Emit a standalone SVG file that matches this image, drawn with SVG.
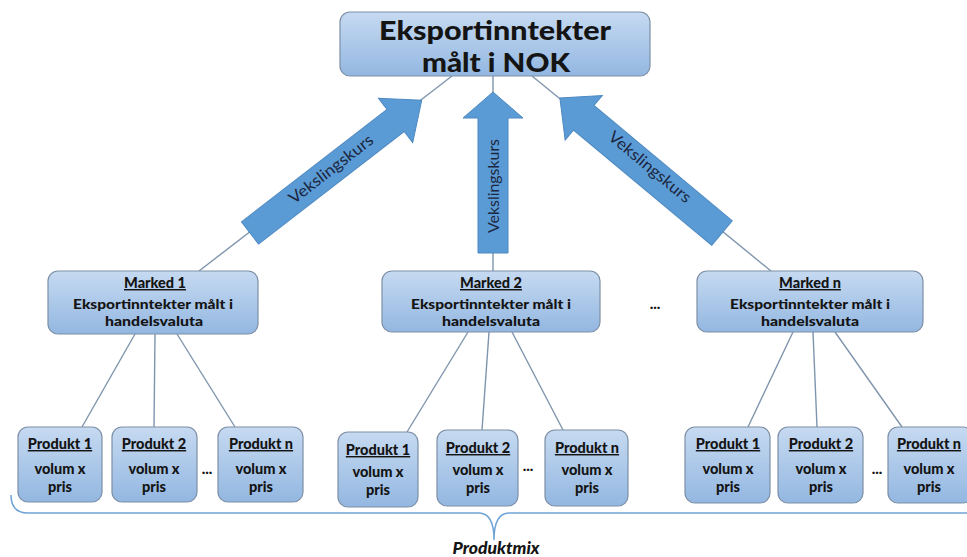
<svg xmlns="http://www.w3.org/2000/svg" width="967" height="557" viewBox="0 0 967 557">
<defs>
<linearGradient id="g" x1="0" y1="0" x2="0" y2="1">
<stop offset="0" stop-color="#c6daf1"/>
<stop offset="1" stop-color="#93b7e1"/>
</linearGradient>
<style>
.box{fill:url(#g);stroke:#7d8fa6;stroke-width:1.2}
.ln{stroke:#7f95ad;stroke-width:1.4;fill:none}
.arr{fill:#5b9bd5;stroke:#4d89c2;stroke-width:1}
.t{font-family:Lato,"Open Sans","Liberation Sans",sans-serif;font-weight:900;fill:#141414;text-anchor:middle}
.h{font-size:14.5px;text-decoration:underline}
.m{font-size:14px}
.p{font-size:14.5px}
.a{font-family:Lato,"Open Sans","Liberation Sans",sans-serif;font-size:16px;fill:#1b2740;text-anchor:middle}
.d{font-family:Lato,"Liberation Sans",sans-serif;font-weight:900;font-size:15px;fill:#141414;text-anchor:middle}
</style>
</defs>
<rect width="967" height="557" fill="#ffffff"/>

<g id="connectors">
<line class="ln" x1="452" y1="76" x2="199" y2="271"/>
<line class="ln" x1="493" y1="76" x2="493" y2="271"/>
<line class="ln" x1="532" y1="76" x2="771" y2="271"/>
<line class="ln" x1="135" y1="334" x2="82" y2="427"/>
<line class="ln" x1="155" y1="334" x2="154" y2="427"/>
<line class="ln" x1="177" y1="334" x2="235" y2="427"/>
<line class="ln" x1="468" y1="332" x2="407" y2="432"/>
<line class="ln" x1="489" y1="332" x2="482" y2="430"/>
<line class="ln" x1="512" y1="332" x2="563" y2="430"/>
<line class="ln" x1="793" y1="332" x2="748" y2="427"/>
<line class="ln" x1="813" y1="332" x2="817" y2="427"/>
<line class="ln" x1="835" y1="332" x2="902" y2="427"/>
</g>

<g id="arrow-left">
<polygon class="arr" transform="translate(250,233) rotate(-37.7)" points="0,-14 184,-14 184,-28 217,0 184,28 184,14 0,14"/>
<text class="a" transform="translate(331,169) rotate(-37.7)" y="5.5" textLength="102" lengthAdjust="spacingAndGlyphs">Vekslingskurs</text>
</g>
<g id="arrow-middle">
<polygon class="arr" transform="translate(493,253) rotate(-90)" points="0,-15 135,-15 135,-30 161,0 135,30 135,15 0,15"/>
<text class="a" transform="translate(493,186) rotate(-90)" y="5.5" textLength="94" lengthAdjust="spacingAndGlyphs">Vekslingskurs</text>
</g>
<g id="arrow-right">
<polygon class="arr" transform="translate(722,233) rotate(-140.2)" points="0,-16 180,-16 180,-29 211,0 180,29 180,16 0,16"/>
<text class="a" transform="translate(650,167) rotate(39.8)" y="5.5" textLength="102" lengthAdjust="spacingAndGlyphs">Vekslingskurs</text>
</g>

<g id="top">
<rect class="box" x="340" y="12" width="310" height="64" rx="10"/>
<text class="t" x="495" y="40" font-size="27" textLength="232" lengthAdjust="spacingAndGlyphs">Eksportinntekter</text>
<text class="t" x="496" y="72" font-size="27" textLength="148" lengthAdjust="spacingAndGlyphs">målt i NOK</text>
</g>

<g id="marked1">
<rect class="box" x="48" y="271" width="210" height="63" rx="10"/>
<text class="t h" x="155" y="288">Marked 1</text>
<text class="t m" x="153" y="309" textLength="160" lengthAdjust="spacingAndGlyphs">Eksportinntekter målt i</text>
<text class="t m" x="154" y="326" textLength="98" lengthAdjust="spacingAndGlyphs">handelsvaluta</text>
</g>
<g id="marked2">
<rect class="box" x="382" y="271" width="218" height="61" rx="10"/>
<text class="t h" x="491" y="288">Marked 2</text>
<text class="t m" x="491" y="309" textLength="160" lengthAdjust="spacingAndGlyphs">Eksportinntekter målt i</text>
<text class="t m" x="491" y="326" textLength="98" lengthAdjust="spacingAndGlyphs">handelsvaluta</text>
</g>
<g id="markedn">
<rect class="box" x="697" y="271" width="226" height="61" rx="10"/>
<text class="t h" x="810" y="288">Marked n</text>
<text class="t m" x="810" y="309" textLength="160" lengthAdjust="spacingAndGlyphs">Eksportinntekter målt i</text>
<text class="t m" x="810" y="326" textLength="98" lengthAdjust="spacingAndGlyphs">handelsvaluta</text>
</g>
<text class="d" x="655" y="309">...</text>

<g id="m1-p1">
<rect class="box" x="18" y="427" width="84" height="75" rx="10"/>
<text class="t h" x="60" y="449">Produkt 1</text>
<text class="t p" x="60" y="474">volum x</text>
<text class="t p" x="60" y="492">pris</text>
</g>
<g id="m1-p2">
<rect class="box" x="112" y="427" width="85" height="75" rx="10"/>
<text class="t h" x="154" y="449">Produkt 2</text>
<text class="t p" x="154" y="474">volum x</text>
<text class="t p" x="154" y="492">pris</text>
</g>
<g id="m1-pn">
<rect class="box" x="218" y="427" width="85" height="75" rx="10"/>
<text class="t h" x="261" y="449">Produkt n</text>
<text class="t p" x="261" y="474">volum x</text>
<text class="t p" x="261" y="492">pris</text>
</g>
<text class="d" x="207" y="474">...</text>

<g id="m2-p1">
<rect class="box" x="338" y="432" width="80" height="75" rx="10"/>
<text class="t h" x="378" y="455">Produkt 1</text>
<text class="t p" x="378" y="477">volum x</text>
<text class="t p" x="378" y="495">pris</text>
</g>
<g id="m2-p2">
<rect class="box" x="437" y="430" width="81" height="76" rx="10"/>
<text class="t h" x="478" y="453">Produkt 2</text>
<text class="t p" x="478" y="475">volum x</text>
<text class="t p" x="478" y="493">pris</text>
</g>
<g id="m2-pn">
<rect class="box" x="545" y="430" width="83" height="76" rx="10"/>
<text class="t h" x="587" y="453">Produkt n</text>
<text class="t p" x="587" y="475">volum x</text>
<text class="t p" x="587" y="493">pris</text>
</g>
<text class="d" x="528" y="471">...</text>

<g id="mn-p1">
<rect class="box" x="685" y="427" width="85" height="76" rx="10"/>
<text class="t h" x="728" y="449">Produkt 1</text>
<text class="t p" x="728" y="474">volum x</text>
<text class="t p" x="728" y="492">pris</text>
</g>
<g id="mn-p2">
<rect class="box" x="778" y="427" width="85" height="76" rx="10"/>
<text class="t h" x="821" y="449">Produkt 2</text>
<text class="t p" x="821" y="474">volum x</text>
<text class="t p" x="821" y="492">pris</text>
</g>
<g id="mn-pn">
<rect class="box" x="888" y="427" width="85" height="76" rx="10"/>
<text class="t h" x="929" y="449">Produkt n</text>
<text class="t p" x="929" y="474">volum x</text>
<text class="t p" x="929" y="492">pris</text>
</g>
<text class="d" x="877" y="474">...</text>

<g id="produktmix">
<path d="M11,495 Q11,513 28,513 L479,513 Q494,513 494,540 Q494,513 509,513 L967,513" fill="none" stroke="#6fa3d6" stroke-width="1.5"/>
<text x="496" y="554" font-family="Lato,'Open Sans','Liberation Sans',sans-serif" font-weight="900" font-style="italic" font-size="17.5" fill="#141414" text-anchor="middle">Produktmix</text>
</g>
</svg>
